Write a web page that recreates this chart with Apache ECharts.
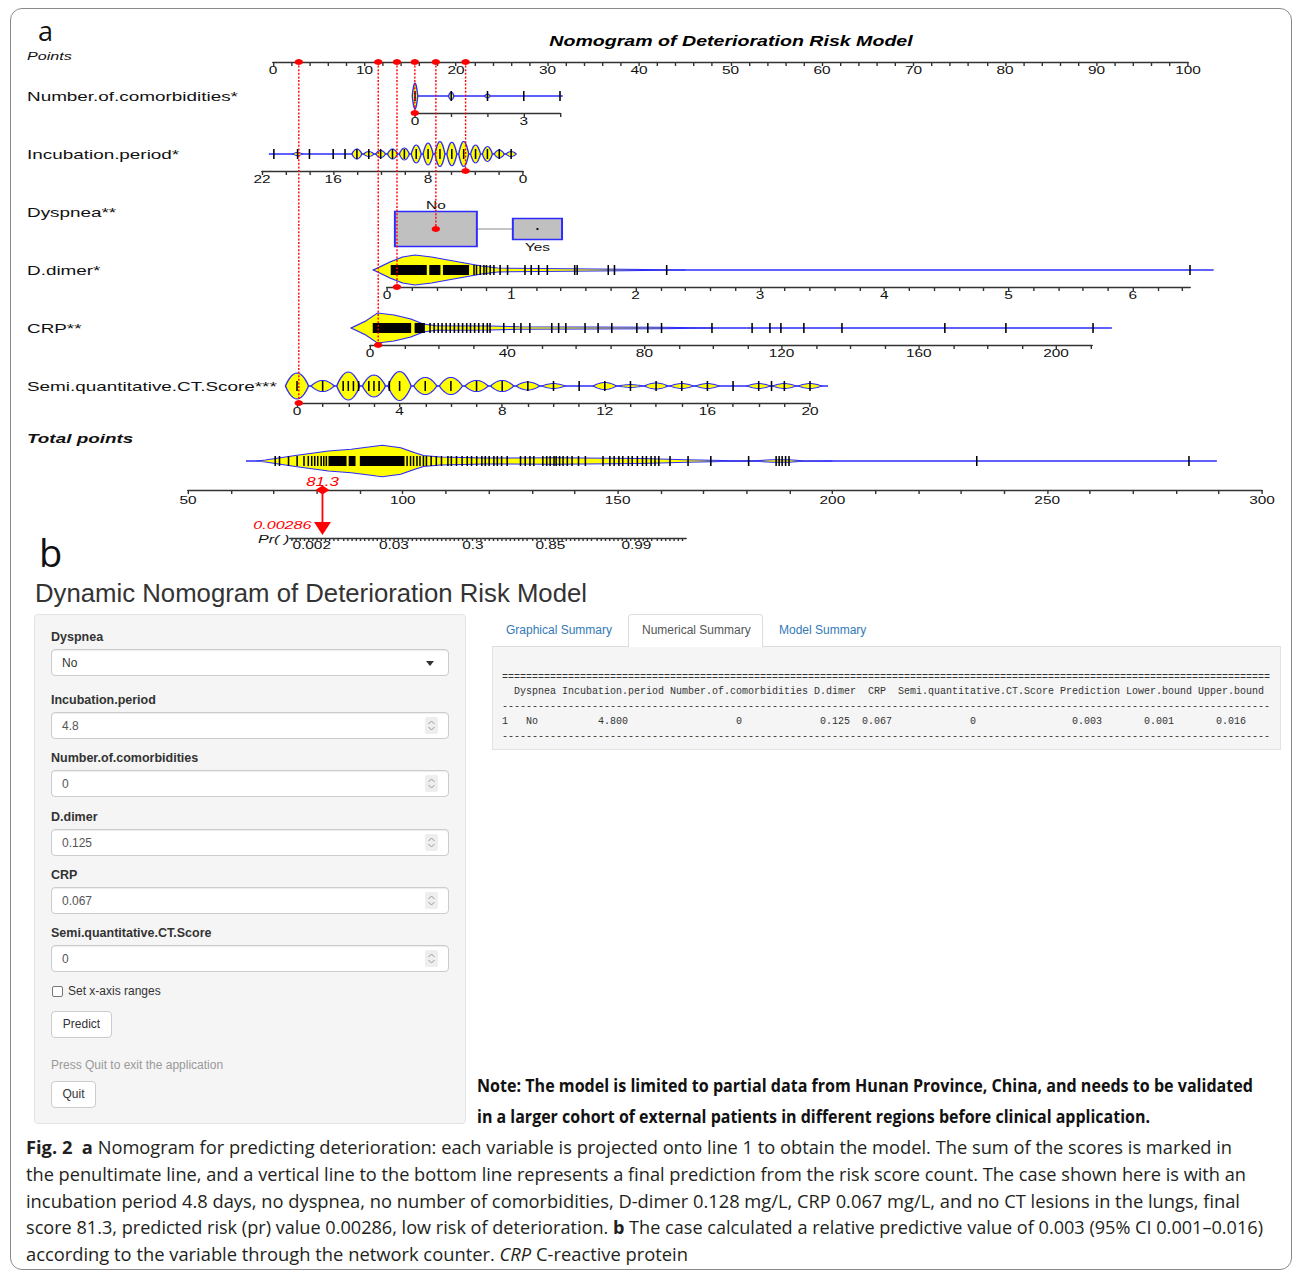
<!DOCTYPE html>
<html><head><meta charset="utf-8">
<script src="https://cdn.jsdelivr.net/npm/echarts@6/dist/echarts.min.js"></script>
<style>
html,body{margin:0;padding:0;background:#fff;}
body{width:1295px;height:1272px;position:relative;overflow:hidden;font-family:'Liberation Sans',Arial,sans-serif;}
.abs{position:absolute;white-space:nowrap;}
#frame{position:absolute;left:10px;top:8px;width:1282px;height:1262px;border:1px solid #8a8a8a;border-radius:12px;box-sizing:border-box;}
#chart{position:absolute;left:0;top:0;transform-origin:0 0;}
.fit{transform-origin:0 50%;}
.flabel{font-weight:bold;font-size:12.5px;color:#333;line-height:16px;}
.inp{background:#fff;border:1px solid #ccc;border-radius:4px;box-shadow:inset 0 1px 1px rgba(0,0,0,.075);box-sizing:border-box;}
.inptxt{font-size:12px;color:#555;line-height:16px;}
.btn{background:#fff;border:1px solid #ccc;border-radius:4px;box-sizing:border-box;font-size:12px;color:#333;text-align:center;}
.tab{font-size:12px;color:#337ab7;line-height:16px;}
.cap{font-family:'Open Sans','Noto Sans',sans-serif;font-size:18px;color:#231f20;line-height:22px;}
.note{font-family:'Open Sans','Noto Sans',sans-serif;font-weight:700;font-size:17px;color:#111;line-height:22px;}
</style></head>
<body>
<div id="frame"></div>
<div id="chart"></div>
<div class="abs" style="left:38px;top:20px;font-family:'Open Sans',sans-serif;font-size:27px;line-height:22px;color:#111;">a</div>
<div class="abs" style="left:39px;top:533px;font-family:'Open Sans',sans-serif;font-size:38px;line-height:38px;color:#111;">b</div>
<div class="abs fit" data-w="552" style="left:35px;top:580px;font-size:25px;line-height:26px;color:#333;">Dynamic Nomogram of Deterioration Risk Model</div>
<div class="abs" style="left:34px;top:614px;width:432px;height:510px;background:#f5f5f5;border:1px solid #e3e3e3;border-radius:4px;box-sizing:border-box;"></div>
<div id="form"></div>
<!-- tabs -->
<div class="abs" style="left:492px;top:646px;width:789px;height:1px;background:#ddd;"></div>
<div class="abs" style="left:628px;top:614px;width:135px;height:33px;background:#fff;border:1px solid #ddd;border-bottom:none;border-radius:4px 4px 0 0;box-sizing:border-box;"></div>
<div class="abs tab" style="left:506px;top:622px;">Graphical Summary</div>
<div class="abs tab" style="left:642px;top:622px;color:#555;">Numerical Summary</div>
<div class="abs tab" style="left:779px;top:622px;">Model Summary</div>
<div class="abs" style="left:492px;top:647px;width:789px;height:103px;background:#f5f5f5;border:1px solid #e3e3e3;border-top:none;box-sizing:border-box;"></div>
<div id="tbl" class="abs" style="left:502px;top:670.5px;font-family:'Liberation Mono','DejaVu Sans Mono',monospace;font-size:10px;line-height:14.75px;color:#333;white-space:pre;"></div>
<!-- note -->
<div class="abs note fit" data-w="776" style="left:477px;top:1075px;">Note: The model is limited to partial data from Hunan Province, China, and needs to be validated</div>
<div class="abs note fit" data-w="673" style="left:477px;top:1106px;">in a larger cohort of external patients in different regions before clinical application.</div>
<!-- caption -->
<div class="abs cap fit" data-w="1206" style="left:26px;top:1136px;"><b>Fig. 2</b>&nbsp; <b>a</b> Nomogram for predicting deterioration: each variable is projected onto line 1 to obtain the model. The sum of the scores is marked in</div>
<div class="abs cap fit" data-w="1220" style="left:26px;top:1163px;">the penultimate line, and a vertical line to the bottom line represents a final prediction from the risk score count. The case shown here is with an</div>
<div class="abs cap fit" data-w="1214" style="left:26px;top:1190px;">incubation period 4.8 days, no dyspnea, no number of comorbidities, D-dimer 0.128 mg/L, CRP 0.067 mg/L, and no CT lesions in the lungs, final</div>
<div class="abs cap fit" data-w="1237" style="left:26px;top:1216px;">score 81.3, predicted risk (pr) value 0.00286, low risk of deterioration. <b>b</b> The case calculated a relative predictive value of 0.003 (95% CI 0.001–0.016)</div>
<div class="abs cap fit" data-w="662" style="left:26px;top:1243px;">according to the variable through the network counter. <i>CRP</i> C-reactive protein</div>
<script>
// ===================== DATA =====================
const pointsLabels = [0,10,20,30,40,50,60,70,80,90,100];
const comorbLabels = [0,3];
const incubLabels = [22,16,8,0];
const ddimerLabels = [0,1,2,3,4,5,6];
const crpLabels = [0,40,80,120,160,200];
const ctLabels = [0,4,8,12,16,20];
const totalLabels = [50,100,150,200,250,300];
const prLabels = [0.002,0.03,0.3,0.85,0.99];

// Number of comorbidities: values and relative frequency
const comorbVals = [0,1,2,3,4];
const comorbDens = [1.0,0.3,0.15,0,0];
// Incubation period (days)
const incubVals = [1,2,3,4,5,6,7,8,9,10,11,12,13,14,15,16,18,19,21];
const incubDens = [0.2,0.32,0.6,0.72,1.0,0.94,1.0,0.88,0.72,0.48,0.4,0.28,0.2,0.4,0,0,0,0.12,0];
// Dyspnea levels, nomogram points of each level, relative frequency
const dyspLevels = ['No','Yes'];
const dyspPoints = [17.8,28.9];
const dyspFreq = [1.0,0.6];
// D.dimer density profile [value, relative density], dense rug ranges, single observations
const ddimerProfile = [[-0.11,0],[0.024,0.53],[0.125,0.87],[0.225,1.0],[0.358,0.87],[0.49,0.67],[0.625,0.47],[0.76,0.27],[0.89,0.13],[1.23,0.1],[1.9,0.05],[2.4,0]];
const ddimerBands = [[0.03,0.32],[0.34,0.43],[0.45,0.66]];
const ddimerRug = [0.7,0.72,0.75,0.78,0.8,0.83,0.86,0.91,0.97,1.11,1.16,1.22,1.29,1.51,1.53,1.78,1.83,2.25,6.46];
const ddimerRange = [-0.11,6.65];
// CRP
const crpProfile = [[-5.5,0],[-1.4,0.45],[2.2,1.0],[7.0,0.87],[11.9,0.6],[15.5,0.27],[19.2,0.15],[34.9,0.13],[43.4,0.08],[85,0.05],[100,0]];
const crpBands = [[0.8,12],[13,16]];
const crpRug = [17.5,18.7,19.9,21,22.2,23.4,24.6,25.8,27,28.2,29.3,30.5,31.7,33,34.2,35,39,42,44,46.6,53,55,57.1,62.7,66.5,70.5,77.8,81,85,99.7,111.4,116.6,119.8,126.5,137.6,167.6,185.4,210.8];
const crpRange = [-5.5,216.3];
// Semi-quantitative CT score
const ctVals = [0,1,2,3,4,5,6,7,8,9,10,11,12,13,14,15,16,17,18,19,20];
const ctDens = [0.9,0.38,0.97,0.76,1,0.59,0.59,0.38,0.38,0.28,0.17,0,0.24,0.1,0.21,0.17,0.17,0,0.17,0.17,0.17];
const ctRug = [0,1,1.8,2,2.2,2.4,2.8,3,3.2,3.6,4,5,6,7,8,9,10,11,12,13,14,15,16,17,18,18.5,19,20];
const ctRange = [-0.4,20.7];
// Total points
const totalProfile = [[66,0],[68,0.06],[75.4,0.36],[82.7,0.63],[88,0.73],[93.9,0.94],[95.2,0.98],[99.5,0.83],[102.8,0.52],[104.8,0.35],[108.7,0.25],[119,0.19],[135,0.2],[155.4,0.15],[166,0.08],[172,0.05],[176.5,0.02],[182,0.02],[186,0.08],[190,0.08],[193,0.02],[200,0]];
const totalBands = [[82.7,86.9],[87.4,89],[90,100.4]];
const totalRug = [70.3,71.3,73.4,75.4,77,78,78.8,79.5,80.2,81,81.6,82.2,101,101.8,102.5,103.3,104,104.8,105.5,106.6,107.8,109,110.5,111.3,112.5,113.8,115,116,117.2,118.4,119.2,120.1,121.2,122,123,124.3,127.4,128.5,129.6,130.5,132.6,133.5,134.3,135.2,135.7,136.5,137.3,138.3,139.4,140.9,142.5,146.6,148.2,149.2,150.3,151.2,152.5,153.4,154.6,155.8,156.7,157.8,158.7,159.6,162.2,166.4,171.7,180.5,186.9,187.6,188.3,189.1,189.9,233.6,283];
const totalRange = [63.5,289.5];
// Case shown: points of each variable, total score and predicted risk
const casePoints = {ct:2.82, crp:11.5, ddimer:13.55, comorb:15.5, dysp:17.8, incub:21.05};
const caseTotal = 81.3;
const caseRisk = 0.00286;
const lpSlope = 0.143; // logit change per total point

// Shiny panel content
const formLabels = ['Dyspnea','Incubation.period','Number.of.comorbidities','D.dimer','CRP','Semi.quantitative.CT.Score'];
const formValues = ['No','4.8','0','0.125','0.067','0'];
const tblHeaders = ['Dyspnea','Incubation.period','Number.of.comorbidities','D.dimer','CRP','Semi.quantitative.CT.Score','Prediction','Lower.bound','Upper.bound'];
const tblRow = ['No','4.800','0','0.125','0.067','0','0.003','0.001','0.016'];

// ===================== LAYOUT =====================
const S = 1.4;                 // horizontal stretch of the nomogram plot
const W0 = 1295 / S;
const X = v => v / S;
const H = 16;
const BLUE = '#2b2bff', YEL = '#ffff00', RED = '#ff0000';
const FONT = "'Liberation Sans', Arial, sans-serif";
const LAY = {
  points:{L:273,R:1188,axisY:62},
  comorb:{L:415,R:560,cy:96,axisY:113},
  incub:{L:262,R:523,cy:154,axisY:171},
  dysp:{L:273,R:1188,cy:229},
  ddimer:{L:387,R:1190,cy:270,axisY:287},
  crp:{L:370,R:1092,cy:328,axisY:345},
  ct:{L:297,R:810,cy:386,axisY:403},
  total:{L:188,R:1262,cy:461,axisY:490},
  pr:{L:290,R:686,axisY:538}
};
const logit = p => Math.log(p/(1-p));
const prT = p => caseTotal + (logit(p) - logit(caseRisk)) / lpSlope;
const tScale = (LAY.total.R - LAY.total.L) / (totalLabels[totalLabels.length-1] - totalLabels[0]);
const prMin = totalLabels[0] + (LAY.pr.L - LAY.total.L) / tScale;
const prMax = totalLabels[0] + (LAY.pr.R - LAY.total.L) / tScale;

function range(a,b,step){const r=[];for(let v=a;v<=b+1e-9;v+=step)r.push(Math.round(v*1e6)/1e6);return r;}

const grids=[], xAxes=[], yAxes=[];
function addAxis(key, min, max, labels, tickStep, extra){
  const l = LAY[key];
  const gi = grids.length;
  let top, offset = 0;
  if (l.cy !== undefined){ top = l.cy - H; if (l.axisY !== undefined) offset = l.axisY - (l.cy + H); }
  else { top = l.axisY - 2*H; }
  grids.push({left:X(l.L), width:X(l.R-l.L), top:top, height:2*H});
  const show = labels !== null;
  xAxes.push(Object.assign({
    gridIndex:gi, type:'value', min:min, max:max, position:'bottom', offset:offset, show:show,
    axisLine:{show:true, onZero:false, lineStyle:{color:'#333', width:1.4}},
    axisTick:{show:true, length:4, lineStyle:{color:'#333', width:1}, customValues: show ? range(min, max, tickStep) : undefined},
    splitLine:{show:false},
    axisLabel:{show:show, fontSize:11, color:'#111', fontFamily:FONT, margin:3, customValues: show ? labels : undefined}
  }, extra||{}));
  yAxes.push({gridIndex:gi, type:'value', min:-1, max:1, show:false});
  return gi;
}
const gPoints = addAxis('points',0,100,pointsLabels,2);
const gComorb = addAxis('comorb',0,4,comorbLabels,1);
const gIncub = addAxis('incub',0,22,incubLabels,2,{inverse:true});
const gDysp = addAxis('dysp',0,100,null,1);
const gDdimer = addAxis('ddimer',0,6.46,ddimerLabels,0.2);
const gCrp = addAxis('crp',0,210.5,crpLabels,10);
const gCt = addAxis('ct',0,20,ctLabels,1);
const gTotal = addAxis('total',50,300,totalLabels,10);
xAxes[gTotal].axisLabel.margin = 5;
const prTickVals = prLabels.map(prT);
const gPr = addAxis('pr',prMin,prMax,prTickVals,1);
xAxes[gPr].axisTick.customValues = range(Math.ceil(prMin), prMax, 1);
xAxes[gPr].axisTick.length = 3;
xAxes[gPr].axisLabel.margin = 2;
xAxes[gPr].axisLabel.formatter = v => { let best=0; prTickVals.forEach((t,i)=>{ if (Math.abs(t-v) < Math.abs(prTickVals[best]-v)) best=i; }); return String(prLabels[best]); };

function tickEl(x, cy){ return {type:'line', shape:{x1:x,y1:cy-5,x2:x,y2:cy+5}, style:{stroke:'#000', lineWidth:1.1}}; }
function baseLine(px, r, cy){ return {type:'line', shape:{x1:px(r[0]),y1:cy,x2:px(r[1]),y2:cy}, style:{stroke:BLUE, lineWidth:1.4}}; }
function lensEl(px, v, w, h, cy){
  const pts=[], N=16;
  for(let k=0;k<=N;k++){const t=k/N; pts.push([px(v-w+2*w*t), cy - h*Math.pow(Math.sin(Math.PI*t),0.85)]);}
  for(let k=N;k>=0;k--){const t=k/N; pts.push([px(v-w+2*w*t), cy + h*Math.pow(Math.sin(Math.PI*t),0.85)]);}
  return {type:'polygon', shape:{points:pts}, style:{fill:YEL, stroke:BLUE, lineWidth:1}};
}
function discreteSeries(gi, vals, dens, rug, halfW, maxH, lineR){
  const r = lineR || [vals[0]-halfW, vals[vals.length-1]+halfW];
  return {type:'custom', xAxisIndex:gi, yAxisIndex:gi, silent:true, clip:false, data:[[vals[0],0]],
    renderItem:function(params, api){
      const cy = api.coord([vals[0],0])[1];
      const px = v => api.coord([v,0])[0];
      const ch=[baseLine(px, r, cy)];
      vals.forEach((v,i)=>{ if(dens[i]>0) ch.push(lensEl(px, v, halfW, dens[i]*maxH, cy)); });
      rug.forEach(v=>ch.push(tickEl(px(v), cy)));
      return {type:'group', children:ch};
    }};
}
function violinSeries(gi, prof, bands, rug, lr, maxH){
  return {type:'custom', xAxisIndex:gi, yAxisIndex:gi, silent:true, clip:false, data:[[prof[0][0],0]],
    renderItem:function(params, api){
      const cy = api.coord([prof[0][0],0])[1];
      const px = v => api.coord([v,0])[0];
      const ch=[baseLine(px, lr, cy)];
      const pts = prof.map(([v,d])=>[px(v), cy - d*maxH]).concat(prof.slice().reverse().map(([v,d])=>[px(v), cy + d*maxH]));
      ch.push({type:'polygon', shape:{points:pts}, style:{fill:YEL, stroke:BLUE, lineWidth:1}});
      bands.forEach(([a,b])=>ch.push({type:'rect', shape:{x:px(a), y:cy-5, width:px(b)-px(a), height:10}, style:{fill:'#000'}}));
      rug.forEach(v=>ch.push(tickEl(px(v), cy)));
      return {type:'group', children:ch};
    }};
}
const dyspSeries = {type:'custom', xAxisIndex:gDysp, yAxisIndex:gDysp, silent:true, clip:false, data:[[dyspPoints[0],0]],
  renderItem:function(params, api){
    const cy = api.coord([dyspPoints[0],0])[1];
    const px = v => api.coord([v,0])[0];
    const BW = 41, BH = 17.5;
    const hw = dyspFreq.map(f=>X(BW*f)), hh = dyspFreq.map(f=>BH*f);
    const ch=[];
    for(let i=0;i<dyspLevels.length-1;i++){
      ch.push({type:'line', shape:{x1:px(dyspPoints[i])+hw[i], y1:cy, x2:px(dyspPoints[i+1])-hw[i+1], y2:cy}, style:{stroke:'#c4c4c4', lineWidth:2}});
    }
    dyspLevels.forEach((lv,i)=>{
      const cx = px(dyspPoints[i]);
      ch.push({type:'rect', shape:{x:cx-hw[i], y:cy-hh[i], width:2*hw[i], height:2*hh[i]}, style:{fill:'#c0c0c0', stroke:BLUE, lineWidth:1.4}});
      ch.push({type:'circle', shape:{cx:cx, cy:cy, r:0.9}, style:{fill:'#000'}});
      const above = i%2===0;
      ch.push({type:'text', x:cx, y: above ? cy-hh[i]-6 : cy+hh[i]+8, style:{text:lv, fill:'#111', fontSize:11, fontFamily:FONT, align:'center', verticalAlign:'middle'}});
    });
    return {type:'group', children:ch};
  }};

const series = [
  discreteSeries(gComorb, comorbVals, comorbDens, comorbVals, 0.075, 13),
  discreteSeries(gIncub, incubVals, incubDens, incubVals, 0.42, 12.5),
  dyspSeries,
  violinSeries(gDdimer, ddimerProfile, ddimerBands, ddimerRug, ddimerRange, 15),
  violinSeries(gCrp, crpProfile, crpBands, crpRug, crpRange, 15),
  discreteSeries(gCt, ctVals, ctDens, ctRug, 0.45, 14.5, ctRange),
  violinSeries(gTotal, totalProfile, totalBands, totalRug, totalRange, 16)
];

const chartEl = document.getElementById('chart');
chartEl.style.width = W0+'px'; chartEl.style.height = '565px';
chartEl.style.transform = 'scaleX('+S+')';
const chart = echarts.init(chartEl, null, {renderer:'svg', width:W0, height:565});
chart.setOption({animation:false, grid:grids, xAxis:xAxes, yAxis:yAxes, series:series});

// ===== labels and case projection overlay =====
const G = [];
function txt(x,y,t,o){ G.push({type:'text', x:x, y:y, z:20, style:Object.assign({text:t, fill:'#111', fontSize:13.5, fontFamily:FONT, align:'left', verticalAlign:'middle'}, o||{})}); }
txt(X(731),41,'Nomogram of Deterioration Risk Model',{align:'center', fontWeight:'bold', fontStyle:'italic', fontSize:14, fill:'#000'});
txt(X(27),56,'Points',{fontStyle:'italic', fontSize:11.5});
txt(X(27),96,'Number.of.comorbidities*');
txt(X(27),154,'Incubation.period*');
txt(X(27),212,'Dyspnea**');
txt(X(27),270,'D.dimer*');
txt(X(27),328,'CRP**');
txt(X(27),386,'Semi.quantitative.CT.Score***');
txt(X(27),438,'Total points',{fontStyle:'italic', fontWeight:'bold'});
txt(X(258),538.5,'Pr( )',{fontStyle:'italic', fontSize:11.5});

const targets = [
  {k:'ct', y:LAY.ct.axisY}, {k:'crp', y:LAY.crp.axisY}, {k:'ddimer', y:LAY.ddimer.axisY},
  {k:'comorb', y:LAY.comorb.axisY}, {k:'dysp', y:LAY.dysp.cy}, {k:'incub', y:LAY.incub.axisY}
];
const y0 = LAY.points.axisY;
targets.forEach(t=>{
  const x = chart.convertToPixel({xAxisIndex:gPoints}, casePoints[t.k]);
  G.push({type:'line', z:15, shape:{x1:x,y1:y0,x2:x,y2:t.y}, style:{stroke:RED, lineWidth:1, lineDash:[2,1.6]}});
  G.push({type:'circle', z:16, shape:{cx:x, cy:y0, r:3}, style:{fill:RED}});
  G.push({type:'circle', z:16, shape:{cx:x, cy:t.y, r:3}, style:{fill:RED}});
});
const xT = chart.convertToPixel({xAxisIndex:gTotal}, caseTotal);
const xP = chart.convertToPixel({xAxisIndex:gPr}, prT(caseRisk));
const yT = LAY.total.axisY, yP = LAY.pr.axisY;
G.push({type:'line', z:15, shape:{x1:xT,y1:yT,x2:xP,y2:yP-14}, style:{stroke:RED, lineWidth:1.3}});
G.push({type:'polygon', z:16, shape:{points:[[xT,yT-4.5],[xT+X(7),yT],[xT,yT+4.5],[xT-X(7),yT]]}, style:{fill:RED}});
G.push({type:'polygon', z:16, shape:{points:[[xP-X(8.5),yP-16],[xP+X(8.5),yP-16],[xP,yP-3]]}, style:{fill:RED}});
txt(xT, yT-8, String(caseTotal), {align:'center', fill:RED, fontStyle:'italic', fontSize:12});
txt(xP-X(11), yP-13, String(caseRisk), {align:'right', fill:RED, fontStyle:'italic', fontSize:11.5});
chart.setOption({graphic:{elements:G}});

// ===== Shiny form =====
const form = document.getElementById('form');
const labelY = [637,700,758,816.5,875,933.3];
const spin = '<svg width="13" height="17" style="position:absolute;left:373px;top:4px"><rect x="0" y="0" width="13" height="17" rx="2" fill="#eeeeee"/><polyline points="3.5,7 6.5,4 9.5,7" fill="none" stroke="#999" stroke-width="1"/><polyline points="3.5,10 6.5,13 9.5,10" fill="none" stroke="#999" stroke-width="1"/></svg>';
let html='';
formLabels.forEach((lb,i)=>{
  const ly = labelY[i];
  html += `<div class="abs flabel" style="left:51px;top:${ly-8}px;">${lb}</div>`;
  const top = ly + 12;
  html += `<div class="abs inp" style="left:51px;top:${top}px;width:398px;height:27px;">`;
  html += `<div class="abs inptxt" style="left:10px;top:5px;${i===0?'color:#333;':''}">${formValues[i]}</div>`;
  if (i===0) html += '<div class="abs" style="left:374px;top:11px;width:0;height:0;border-left:4.5px solid transparent;border-right:4.5px solid transparent;border-top:5px solid #333;"></div>';
  else html += spin;
  html += '</div>';
});
html += '<div class="abs" style="left:52px;top:986px;width:11px;height:11px;border:1px solid #767676;border-radius:2px;background:#fff;box-sizing:border-box;"></div>';
html += '<div class="abs" style="left:68px;top:983px;font-size:12px;line-height:16px;color:#333;">Set x-axis ranges</div>';
html += '<div class="abs btn" style="left:51px;top:1011px;width:61px;height:27px;line-height:25px;">Predict</div>';
html += '<div class="abs" style="left:51px;top:1057px;font-size:12px;line-height:16px;color:#999;">Press Quit to exit the application</div>';
html += '<div class="abs btn" style="left:51px;top:1081px;width:45px;height:27px;line-height:25px;">Quit</div>';
form.innerHTML = html;

// ===== numerical summary table =====
function center(s,w){const l=Math.floor((w-s.length)/2); return ' '.repeat(l)+s+' '.repeat(w-s.length-l);}
let th='  ', tr='1 ';
tblHeaders.forEach((hd,i)=>{const w=Math.max(hd.length,tblRow[i].length); th+=center(hd,w)+' '; tr+=center(tblRow[i],w)+' ';});
const L = th.length;
document.getElementById('tbl').textContent = ['='.repeat(L), th, '-'.repeat(L), tr, '-'.repeat(L)].join('\n');

// ===== fit condensed text lines =====
function fit(){
  document.querySelectorAll('.fit').forEach(el=>{
    el.style.transform='none';
    const w = el.getBoundingClientRect().width;
    el.style.transform = 'scaleX('+(+el.dataset.w / w)+')';
  });
}
fit();
if (document.fonts && document.fonts.ready) document.fonts.ready.then(fit);
</script>
</body></html>
